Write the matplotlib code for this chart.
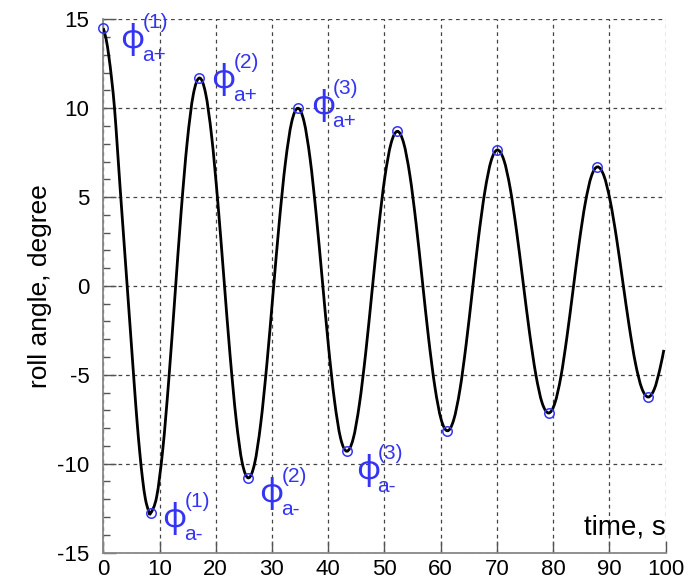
import matplotlib
matplotlib.use("Agg")
import matplotlib.pyplot as plt
from matplotlib.path import Path
from matplotlib.patches import PathPatch
from matplotlib.ticker import MultipleLocator

# roll decay record
time_s = [0.0, 0.5, 1.0, 1.5, 2.0, 2.5, 3.0, 3.5, 4.0, 4.5, 5.0, 5.5, 6.0, 6.5, 7.0, 7.5, 8.0, 8.4,
          9.49, 10.58, 11.66, 12.75, 13.84, 14.93, 16.01, 17.1,
          18.19, 19.28, 20.36, 21.45, 22.54, 23.63, 24.71, 25.8,
          26.9, 28.0, 29.1, 30.2, 31.3, 32.4, 33.5, 34.6,
          35.69, 36.78, 37.86, 38.95, 40.04, 41.13, 42.21, 43.3,
          44.43, 45.55, 46.68, 47.8, 48.93, 50.05, 51.18, 52.3,
          53.41, 54.53, 55.64, 56.75, 57.86, 58.98, 60.09, 61.2,
          62.31, 63.43, 64.54, 65.65, 66.76, 67.88, 68.99, 70.1,
          71.24, 72.38, 73.51, 74.65, 75.79, 76.93, 78.06, 79.2,
          80.29, 81.38, 82.46, 83.55, 84.64, 85.73, 86.81, 87.9,
          89.03, 90.15, 91.28, 92.4, 93.53, 94.65, 95.78, 96.9,
          98.0, 99.0, 99.7]
roll_deg = [14.5, 13.9, 12.9, 11.6, 10.0, 7.8, 5.5, 3.3, 1.1, -1.1, -3.3, -5.5, -7.6, -9.4, -10.9, -12.0, -12.6, -12.8,
            -11.87, -9.21, -5.24, -0.55, 4.14, 8.11, 10.77, 11.7,
            10.85, 8.40, 4.76, 0.45, -3.86, -7.50, -9.95, -10.8,
            -10.01, -7.75, -4.38, -0.4, 3.58, 6.95, 9.21, 10.0,
            9.27, 7.17, 4.05, 0.35, -3.35, -6.47, -8.57, -9.3,
            -8.62, -6.66, -3.75, -0.3, 3.15, 6.06, 8.02, 8.7,
            8.06, 6.23, 3.50, 0.28, -2.95, -5.68, -7.51, -8.15,
            -7.55, -5.84, -3.28, -0.25, 2.78, 5.34, 7.05, 7.65,
            7.09, 5.48, 3.08, 0.25, -2.58, -4.98, -6.59, -7.15,
            -6.62, -5.12, -2.88, -0.23, 2.43, 4.67, 6.17, 6.7,
            6.21, 4.80, 2.70, 0.23, -2.25, -4.35, -5.76, -6.25,
            -5.81, -4.67, -3.6]

# positive and negative amplitudes
peak_t = [0.0, 17.1, 34.6, 52.3, 70.1, 87.9]
peak_v = [14.5, 11.7, 10.0, 8.7, 7.65, 6.7]
trough_t = [8.4, 25.8, 43.3, 61.2, 79.2, 96.9]
trough_v = [-12.8, -10.8, -9.3, -8.15, -7.15, -6.25]

label_num = ["(1)", "(2)", "(3)"]
# where the phi symbols sit (left edge, baseline)
plus_lab_x = [3.0, 19.2, 36.9]
plus_lab_y = [13.4, 11.15, 9.7]
minus_lab_x = [10.5, 27.8, 44.9]
minus_lab_y = [-13.55, -12.15, -10.85]

BLUE = "#3434f4"
plt.rcParams["font.family"] = ["Liberation Sans", "DejaVu Sans"]
plt.rcParams["axes.unicode_minus"] = False


def smooth_path(xs, ys):
    # Catmull-Rom style cubic segments through the measured points
    n = len(xs)
    verts = [(xs[0], ys[0])]
    codes = [Path.MOVETO]
    for i in range(n - 1):
        i0 = max(i - 1, 0)
        i3 = min(i + 2, n - 1)
        c1 = (xs[i] + (xs[i + 1] - xs[i0]) / 6, ys[i] + (ys[i + 1] - ys[i0]) / 6)
        c2 = (xs[i + 1] - (xs[i3] - xs[i]) / 6, ys[i + 1] - (ys[i3] - ys[i]) / 6)
        verts += [c1, c2, (xs[i + 1], ys[i + 1])]
        codes += [Path.CURVE4] * 3
    return Path(verts, codes)


fig = plt.figure(figsize=(6.95, 5.81), dpi=100)
ax = fig.add_axes([0.1486, 0.049, 0.8090, 0.9177])

ax.add_patch(PathPatch(smooth_path(time_s, roll_deg), facecolor="none",
                       edgecolor="black", lw=2.0, zorder=3))
ax.plot(peak_t + trough_t, peak_v + trough_v, "o", ms=6.8, mfc="none",
        mec=BLUE, mew=1.1, zorder=4, clip_on=False)

ax.set_xlim(0, 100)
ax.set_ylim(-15, 15)
ax.xaxis.set_major_locator(MultipleLocator(10))
ax.yaxis.set_major_locator(MultipleLocator(5))
ax.yaxis.set_minor_locator(MultipleLocator(1))
ax.tick_params(axis="both", which="major", direction="in", length=9,
               width=1, color="#555555", labelsize=16)
ax.tick_params(axis="y", which="minor", direction="in", length=5,
               width=1, color="#555555")
ax.tick_params(axis="x", pad=5)
ax.tick_params(axis="y", pad=10)

ax.grid(True, which="major", color="#444444", ls=(0, (3, 3)), lw=0.9)
for side in ["top", "right"]:
    ax.spines[side].set_visible(False)
for side in ["left", "bottom"]:
    ax.spines[side].set_color("#888888")
    ax.spines[side].set_linewidth(1.3)

ax.set_ylabel("roll angle, degree", fontsize=19, labelpad=4)
ax.text(1.0, 0.033, "time, s", transform=ax.transAxes, ha="right",
        va="baseline", fontsize=20)


def phi_label(x, y, num, sign):
    ax.text(x, y, "\u03d5", color=BLUE, fontsize=24, ha="left", va="baseline",
            family=["Noto Sans", "DejaVu Sans"])
    ax.annotate(num, (x, y), xytext=(16.0, 14.4), textcoords="offset points",
                color=BLUE, fontsize=15, ha="left", va="baseline")
    ax.annotate("a" + sign, (x, y), xytext=(15.5, -9.4), textcoords="offset points",
                color=BLUE, fontsize=15, ha="left", va="baseline")


for i in range(3):
    phi_label(plus_lab_x[i], plus_lab_y[i], label_num[i], "+")
    phi_label(minus_lab_x[i], minus_lab_y[i], label_num[i], "-")

fig.savefig("out.png", dpi=100)
